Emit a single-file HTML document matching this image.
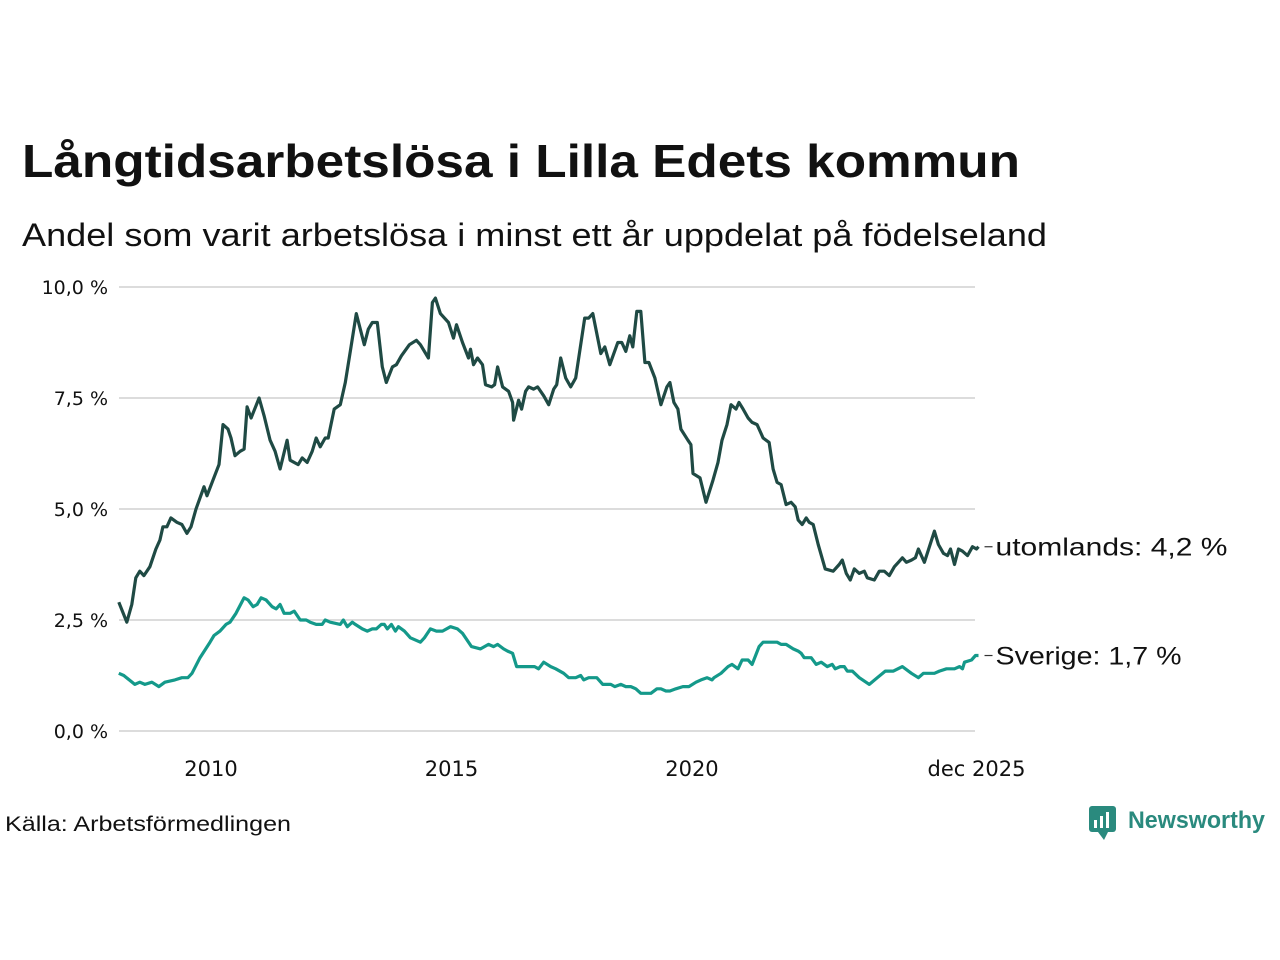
<!DOCTYPE html>
<html><head><meta charset="utf-8"><style>
body{margin:0;background:#fff;width:1280px;height:960px;overflow:hidden;font-family:"Liberation Sans",sans-serif}
</style></head><body>
<svg width="1280" height="960" style="position:absolute;left:0;top:0">
<text x="22" y="177" font-size="46" font-weight="bold" fill="#111" textLength="998" lengthAdjust="spacingAndGlyphs">Långtidsarbetslösa i Lilla Edets kommun</text>
<text x="22" y="246" font-size="32" fill="#111" textLength="1025" lengthAdjust="spacingAndGlyphs">Andel som varit arbetslösa i minst ett år uppdelat på födelseland</text>
<g id="grid"></g><g id="series"></g>
<text x="5" y="831" font-size="21" fill="#111" textLength="286" lengthAdjust="spacingAndGlyphs">Källa: Arbetsförmedlingen</text>
<g>
<rect x="1089" y="806" width="27" height="26" rx="3" fill="#2a8a7e"/>
<polygon points="1098,832 1104,840 1108,832" fill="#2a8a7e"/>
<rect x="1094" y="820" width="3" height="8" fill="#fff"/><rect x="1100" y="816" width="3" height="12" fill="#fff"/><rect x="1106" y="812" width="3" height="16" fill="#fff"/>
<text x="1128" y="828" font-size="24" font-weight="bold" fill="#2a8a7e" textLength="137" lengthAdjust="spacingAndGlyphs">Newsworthy</text>
</g>
</svg>
<script>
const yTicks=[0,2.5,5,7.5,10];
const yTickLabels=["0,0 %","2,5 %","5,0 %","7,5 %","10,0 %"];
const xTickMonths=[24,84,144,215];
const xTickLabels=["2010","2015","2020","dec 2025"];
const abroadMonths=[1,3,4.25,5.25,6.25,7.25,8.75,10.25,11.25,12,
13,14,15.5,16.75,18,19,20.25,22.25,23,24.5,
26,27,28.25,29,30,31.25,32.25,33,34,36,
37.25,38.75,40,41.25,43,43.75,45.75,46.75,48,49.25,
50.25,51.25,52.5,53.25,54.75,56.25,57.5,58.75,60.25,62.25,
63.25,64.25,65.5,66.75,67.75,69.25,70.25,71.5,73.5,75.25,
76.25,78.25,79.25,80,81.25,83.25,84.5,85.25,86.75,88.25,
88.75,89.5,90.5,91.75,92.5,94,94.75,95.5,96.75,98.25,
99.25,99.5,100.75,101.5,102.5,103.25,104.5,105.5,107,108.25,
109.5,110.25,111.25,112.5,113.75,115,116.25,117.25,118.25,119.25,
121.25,122.25,123.5,125.5,126.5,127.5,128.5,129.25,130.25,131.25,
132.25,133.25,134.75,136.25,137.75,138.5,139.5,140.5,141.25,143,
143.75,144.25,146,147.5,149.25,150.5,151.5,152.75,153.75,155,
155.75,156.75,158,159,160.25,161.75,163.25,164.25,165.25,166.25,
167.5,168.75,169.75,170.5,171.5,172.5,173.25,174.25,175.5,177.25,
179.25,180.75,181.5,182.5,183.5,184.5,185.75,187,187.75,189.5,
190.75,192,193.25,194.5,195.5,196.5,197.5,198.75,199.75,200.5,
202,204.5,205.5,206.75,207.75,208.5,209.5,210.5,211.5,212.75,
214,215,215.5];
const abroadValues=[2.9,2.45,2.85,3.45,3.6,3.5,3.7,4.1,4.3,4.6,
4.6,4.8,4.7,4.65,4.45,4.6,5.0,5.5,5.3,5.65,
6.0,6.9,6.8,6.6,6.2,6.3,6.35,7.3,7.05,7.5,
7.1,6.55,6.3,5.9,6.55,6.1,6.0,6.15,6.05,6.3,
6.6,6.4,6.6,6.6,7.25,7.35,7.85,8.55,9.4,8.7,
9.05,9.2,9.2,8.2,7.85,8.2,8.25,8.45,8.7,8.8,
8.7,8.4,9.65,9.75,9.4,9.2,8.85,9.15,8.75,8.4,
8.6,8.25,8.4,8.25,7.8,7.75,7.8,8.2,7.75,7.65,
7.4,7.0,7.45,7.25,7.65,7.75,7.7,7.75,7.55,7.35,
7.7,7.8,8.4,7.95,7.75,7.95,8.7,9.3,9.3,9.4,
8.5,8.65,8.25,8.75,8.75,8.55,8.9,8.65,9.45,9.45,
8.3,8.3,7.95,7.35,7.75,7.85,7.4,7.25,6.8,6.55,
6.45,5.8,5.7,5.15,5.65,6.05,6.55,6.9,7.35,7.25,
7.4,7.25,7.05,6.95,6.9,6.6,6.5,5.9,5.6,5.55,
5.1,5.15,5.05,4.75,4.65,4.8,4.7,4.65,4.2,3.65,
3.6,3.75,3.85,3.55,3.4,3.65,3.55,3.6,3.45,3.4,
3.6,3.6,3.5,3.7,3.8,3.9,3.8,3.85,3.9,4.1,
3.8,4.5,4.2,4.0,3.95,4.1,3.75,4.1,4.05,3.95,
4.15,4.1,4.15];
const swedenMonths=[1,2.25,5,6.25,7.5,9.25,11,12.5,15,16.75,
18.25,19.25,21.25,23.75,24.75,26.25,27.75,28.75,30.25,32.25,
33.25,34.5,35.5,36.5,37.75,39.25,40.25,41.25,42.25,43.75,
44.75,46.25,47.75,48.75,50.25,51.75,52.5,53.75,56.25,57,
58,59.25,60,61.75,63,64.25,65.25,66.5,67.25,68,
69,70,70.75,72.25,73.75,76.25,77.25,78.75,80.25,81.75,
83.75,85.5,86.75,89,91.25,93.25,94.5,95.5,97,98,
99.25,100.25,101.75,103.25,104.75,105.75,107,108.75,110,112,
113.25,115,116.25,117,118.25,120.25,121.75,123.75,124.75,126.25,
127.5,128.75,130,131.25,133.75,135.25,136.25,137.5,138.5,140,
141.75,143.25,145,146.25,147.75,149,149.5,151.25,153,154,
155.5,156.5,158,159,160.75,161.75,163.5,165.25,166.25,167.5,
169.25,170.5,171.25,172,173.75,175,176.25,177.75,179,179.75,
181,182,182.75,184,185.75,188.25,190.25,192.25,194.25,196.5,
198.75,200.5,201.75,204.5,205.75,207.5,209.5,210.75,211.5,212,
213.75,214.75,215.5];
const swedenValues=[1.3,1.25,1.05,1.1,1.05,1.1,1.0,1.1,1.15,1.2,
1.2,1.3,1.65,2.0,2.15,2.25,2.4,2.45,2.65,3.0,
2.95,2.8,2.85,3.0,2.95,2.8,2.75,2.85,2.65,2.65,
2.7,2.5,2.5,2.45,2.4,2.4,2.5,2.45,2.4,2.5,
2.35,2.45,2.4,2.3,2.25,2.3,2.3,2.4,2.4,2.3,
2.4,2.25,2.35,2.25,2.1,2.0,2.1,2.3,2.25,2.25,
2.35,2.3,2.2,1.9,1.85,1.95,1.9,1.95,1.85,1.8,
1.75,1.45,1.45,1.45,1.45,1.4,1.55,1.45,1.4,1.3,
1.2,1.2,1.25,1.15,1.2,1.2,1.05,1.05,1.0,1.05,
1.0,1.0,0.95,0.85,0.85,0.95,0.95,0.9,0.9,0.95,
1.0,1.0,1.1,1.15,1.2,1.15,1.2,1.3,1.45,1.5,
1.4,1.6,1.6,1.5,1.9,2.0,2.0,2.0,1.95,1.95,
1.85,1.8,1.75,1.65,1.65,1.5,1.55,1.45,1.5,1.4,
1.45,1.45,1.35,1.35,1.2,1.05,1.2,1.35,1.35,1.45,
1.3,1.2,1.3,1.3,1.35,1.4,1.4,1.45,1.4,1.55,
1.6,1.7,1.7];
const abroadLabel="utomlands: 4,2 %";
const swedenLabel="Sverige: 1,7 %";
const NS="http://www.w3.org/2000/svg";
const xS=m=>114.8+m*4.008;
const yS=v=>731-v*44.4;
function mk(tag,attrs,parent){const e=document.createElementNS(NS,tag);for(const k in attrs)e.setAttribute(k,attrs[k]);parent.appendChild(e);return e;}
const grid=document.getElementById('grid');
yTicks.forEach((t,i)=>{
 const l=mk('line',{x1:119,x2:975,y1:yS(t),y2:yS(t),stroke:'#dcdcdc','stroke-width':2},grid);
 
 
 const tx=mk('text',{x:108,y:yS(t)+7,'text-anchor':'end','font-size':19,fill:'#111','font-family':'"DejaVu Sans",sans-serif'},grid);
 tx.textContent=yTickLabels[i];
 
 
});
xTickMonths.forEach((m,i)=>{
 const tx=mk('text',{x:xS(m),y:776,'text-anchor':'middle','font-size':21,fill:'#111','font-family':'"DejaVu Sans",sans-serif'},grid);
 tx.textContent=xTickLabels[i];
 
 
});
const sg=document.getElementById('series');
function draw(ms,vs,color,name,label,len){
 const n=Math.min(ms.length,vs.length);
 let d='';for(let i=0;i<n;i++)d+=(i?'L':'M')+xS(ms[i]).toFixed(1)+','+yS(vs[i]).toFixed(1);
 const p=mk('path',{d:d,fill:'none',stroke:color,'stroke-width':3.2,'stroke-linejoin':'round'},sg);
 
 
 const lx=xS(ms[n-1]),ly=yS(vs[n-1]);
 mk('line',{x1:lx+6,x2:lx+14,y1:ly,y2:ly,stroke:'#333','stroke-width':1.2},sg);
 const t=mk('text',{x:lx+17,y:ly+9,'font-size':25,fill:'#111',textLength:len,lengthAdjust:'spacingAndGlyphs'},sg);
 t.textContent=label;
 
 
}
draw(abroadMonths,abroadValues,'#1f4a44','utomlands',abroadLabel,232);
draw(swedenMonths,swedenValues,'#14998a','sverige',swedenLabel,186);
</script>
</body></html>
